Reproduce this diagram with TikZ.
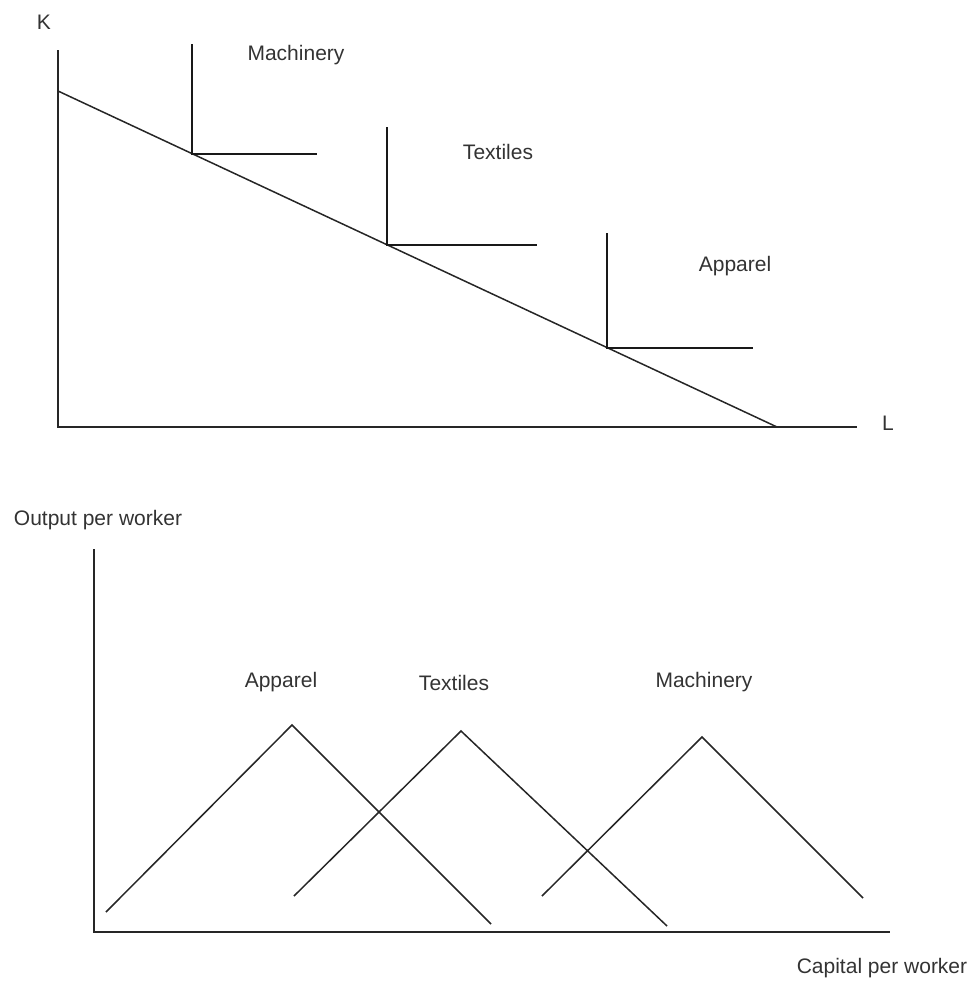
\documentclass[tikz,border=0pt]{standalone}
\usepackage{fontspec}
\setmainfont{Liberation Sans}
\usepackage{tikz}
\usetikzlibrary{positioning, calc}

\begin{document}
\begin{tikzpicture}[
      x=1pt, y=-1pt,
      lbl/.style={font=\fontsize{21}{25}\selectfont, text=black!80, inner sep=0pt},
      axis/.style={line width=2pt, black!85},
      curve/.style={line width=1.5pt, black!85},
      iso/.style={line width=2pt, black!90},
    ]
    \useasboundingbox (0,0) rectangle (973,985);

    % ── Isoquant panel ──
    \coordinate (o1) at (58,427);
    \coordinate (ktop) at (58,50);
    \coordinate (lend) at (857,427);
    \draw[axis] (ktop) -- (o1) -- (lend);
    \node[lbl] (klab) at (44,22) {K};
    \node[lbl] (llab) at (888,423) {L};

    % budget line
    \coordinate (b0) at (58,91);
    \coordinate (b1) at (777,427);
    \draw[curve] (b0) -- (b1);

    % corners sit on the budget line
    \coordinate (cm) at ($(b0)!0.1864!(b1)$);
    \coordinate (ct) at ($(b0)!0.4576!(b1)$);
    \coordinate (ca) at ($(b0)!0.7636!(b1)$);

    \draw[iso] (cm |- 0,44) -- (cm) -- (cm -| 317,0);
    \draw[iso] (ct |- 0,127) -- (ct) -- (ct -| 537,0);
    \draw[iso] (ca |- 0,233) -- (ca) -- (ca -| 753,0);

    \node[lbl] (mlab1) at (296,55) {Machinery};
    \node[lbl] (tlab1) at (498,152) {Textiles};
    \node[lbl] (alab1) at (735,266) {Apparel};

    % ── Output panel ──
    \coordinate (o2) at (94,932);
    \coordinate (ytop) at (94,549);
    \coordinate (xend) at (890,932);
    \draw[axis] (ytop) -- (o2) -- (xend);
    \node[lbl] (ylab) at (98,520) {Output per worker};
    \node[lbl] (xlab) at (882,968) {Capital per worker};

    % humps
    \coordinate (a0) at (106,912);
    \coordinate (ap) at (292,725);
    \coordinate (a1) at (491,924);
    \coordinate (t0) at (294,896);
    \coordinate (tp) at (461,731);
    \coordinate (t1) at (667,926);
    \coordinate (m0) at (542,896);
    \coordinate (mp) at (702,737);
    \coordinate (m1) at (863,898);
    \draw[curve] (a0) -- (ap) -- (a1);
    \draw[curve] (t0) -- (tp) -- (t1);
    \draw[curve] (m0) -- (mp) -- (m1);

    \node[lbl] (alab2) at (281,682) {Apparel};
    \node[lbl] (tlab2) at (454,683) {Textiles};
    \node[lbl] (mlab2) at (704,682) {Machinery};
  \end{tikzpicture}
\end{document}
